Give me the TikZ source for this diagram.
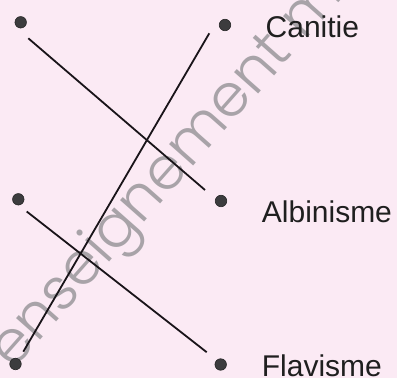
\documentclass[tikz,border=0pt]{standalone}
\usepackage{fontspec}
\setmainfont{Liberation Sans}
\IfFontExistsTF{Poppins Light}{\newfontfamily\wmfont{Poppins Light}}{\newfontfamily\wmfont{Poppins}}
\definecolor{bgpink}{RGB}{251,234,244}
\definecolor{dotgray}{RGB}{60,60,62}
\definecolor{inkline}{RGB}{25,20,25}
\definecolor{wmgray}{RGB}{168,163,168}
\tikzset{
  dotmark/.style={circle,fill=dotgray,draw=black!85,line width=0.6pt,minimum size=11.5pt,inner sep=0pt},
  linkline/.style={draw=inkline,line width=1.8pt},
  termlabel/.style={anchor=base west,inner sep=0pt,text=black!88,font=\fontsize{30}{32}\selectfont},
  watermark/.style={anchor=base west,inner sep=0pt,text=wmgray,font=\wmfont\fontsize{59}{66}\selectfont}
}
\begin{document}
\begin{tikzpicture}[x=1pt,y=1pt]
\useasboundingbox (0,0) rectangle (397,378);
\fill[bgpink] (0,0) rectangle (397,378);
\begin{scope}
\clip (0,0) rectangle (397,378);
\node[watermark,rotate=48.5] (wm) at (13,7) {enseignement m};
\end{scope}
% dots
\node[dotmark] (l1) at (20.7,355.7) {};
\node[dotmark] (l2) at (18.3,178.7) {};
\node[dotmark] (l3) at (15.5,14) {};
\node[dotmark] (r1) at (225,353) {};
\node[dotmark] (r2) at (221,177) {};
\node[dotmark] (r3) at (220.7,13.5) {};
% labels
\node[termlabel] (t1) at (265.5,340.8) {Canitie};
\node[termlabel] (t2) at (261.7,155.5) {Albinisme};
\node[termlabel] (t3) at (261.7,1.8) {Flavisme};
% line ends
\coordinate (a1) at (28.3,339.7);
\coordinate (a2) at (205,188);
\coordinate (b1) at (26.7,166.5);
\coordinate (b2) at (206.7,25.8);
\coordinate (c1) at (23.3,26.3);
\coordinate (c2) at (209.3,344.7);
\draw[linkline] (a1) -- (a2);
\draw[linkline] (b1) -- (b2);
\draw[linkline] (c1) -- (c2);
\end{tikzpicture}
\end{document}
